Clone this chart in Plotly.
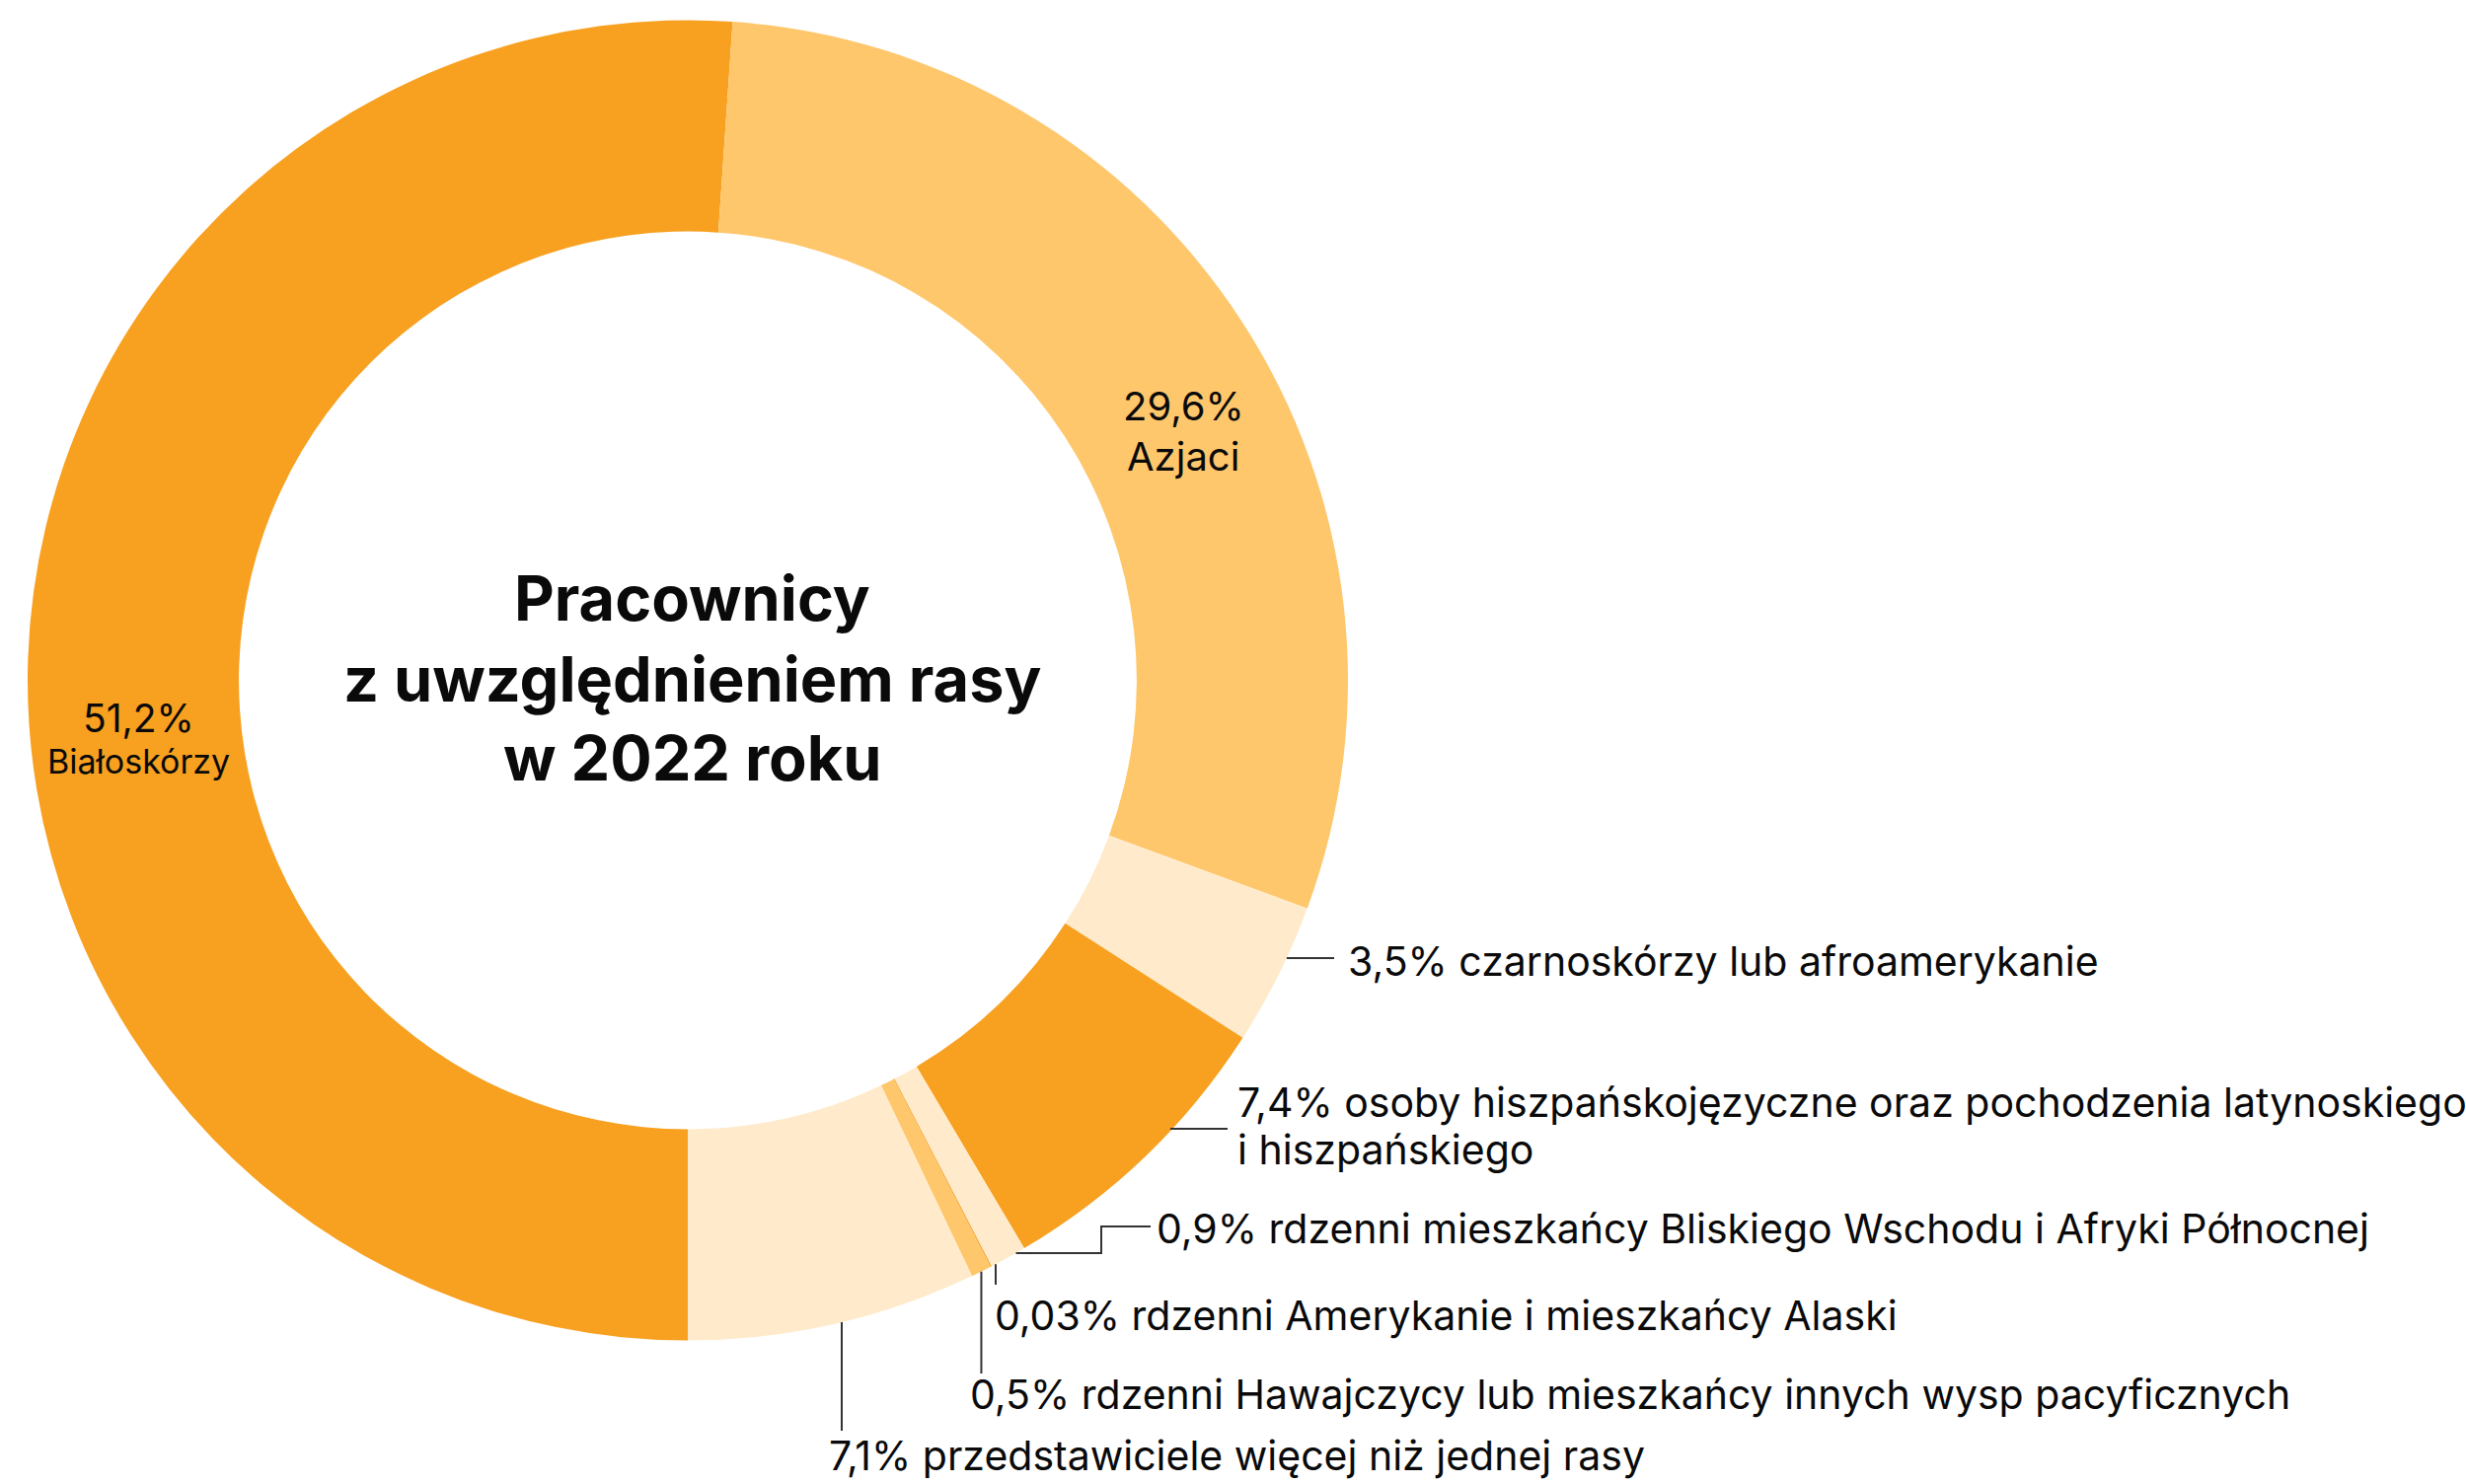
import math
import plotly.graph_objects as go

# ---- data ----
categories = [
    "Białoskórzy",
    "Azjaci",
    "czarnoskórzy lub afroamerykanie",
    "osoby hiszpańskojęzyczne oraz pochodzenia latynoskiego i hiszpańskiego",
    "rdzenni mieszkańcy Bliskiego Wschodu i Afryki Północnej",
    "rdzenni Amerykanie i mieszkańcy Alaski",
    "rdzenni Hawajczycy lub mieszkańcy innych wysp pacyficznych",
    "przedstawiciele więcej niż jednej rasy",
]
values = [51.2, 29.6, 3.5, 7.4, 0.9, 0.03, 0.5, 7.1]
value_labels = ["51,2%", "29,6%", "3,5%", "7,4%", "0,9%", "0,03%", "0,5%", "7,1%"]
title_lines = ["Pracownicy", "z uwzględnieniem rasy", "w 2022 roku"]

DARK, LIGHT, PALE = "#F8A020", "#FEC76C", "#FFEBCC"
colors = [DARK, LIGHT, PALE, DARK, PALE, DARK, LIGHT, PALE]

W, H = 2499, 1504
CX, CY, R = 697.0, 689.5, 669.0
HOLE = 0.68

def px(x):
    return x / W

def py(y):
    return 1 - y / H

fig = go.Figure(go.Pie(
    labels=categories, values=values, sort=False, direction="clockwise",
    rotation=180, hole=HOLE, textinfo="none", hoverinfo="label+percent",
    marker=dict(colors=colors, line=dict(width=0)),
    domain=dict(x=[px(CX - R), px(CX + R)], y=[py(CY + R), py(CY - R)]),
    showlegend=False,
))

# slice mid angles (deg, clockwise from 12 o'clock)
total = sum(values)
mids = []
acc = 180.0
for v in values:
    span = v / total * 360
    mids.append(acc + span / 2)
    acc += span

def circle_x_at_y(y):
    return CX + math.sqrt(max(R * R - (y - CY) ** 2, 0))

def circle_y_at_x(x):
    return CY + math.sqrt(max(R * R - (x - CX) ** 2, 0))

def mid_x(i):
    return CX + R * math.sin(math.radians(mids[i]))

FONT = "Inter, 'Noto Sans', sans-serif"
TXT = "#0a0a0a"
LINE = dict(color="#333333", width=2)
annotations = []
shapes = []

def text(x, y, s, size=41, anchor="left", weight=None, fam=FONT):
    f = dict(family=fam, size=size, color=TXT)
    if weight:
        f["weight"] = weight
    annotations.append(dict(
        x=px(x), y=py(y), xref="paper", yref="paper", text=s, showarrow=False,
        xanchor=anchor, yanchor="middle", font=f,
    ))

def path(points):
    d = "M " + " L ".join(f"{px(x)} {py(y)}" for x, y in points)
    shapes.append(dict(type="path", path=d, xref="paper", yref="paper", line=LINE))

# title
for line, y in zip(title_lines, [606, 688, 768]):
    text(701, y, line, size=63, anchor="center", weight=700)

# inside labels
text(140, 727, value_labels[0], size=39, anchor="center")
text(140, 771, categories[0], size=34, anchor="center")
text(1199, 411, value_labels[1], size=40, anchor="center")
text(1199, 462, categories[1], size=40, anchor="center")

# 3,5%
y = 971
path([(circle_x_at_y(y), y), (1352, y)])
text(1364, 974, f"{value_labels[2]} {categories[2]}")

# 7,4% (two lines)
y = 1144
path([(circle_x_at_y(y) - 2, y), (1244, y)])
text(1252, 1117, f"{value_labels[3]} osoby hiszpańskojęzyczne oraz pochodzenia latynoskiego")
text(1252, 1165, "i hiszpańskiego")

# 0,9%
y = 1270
path([(circle_x_at_y(y), y), (1116, y), (1116, 1243), (1166, 1243)])
text(1170, 1245, f"{value_labels[4]} {categories[4]}")

# 0,03%
x = 1009
path([(x, circle_y_at_x(x)), (x, 1302)])
text(1006, 1333, f"{value_labels[5]} {categories[5]}")

# 0,5%
x = mid_x(6)
path([(x, circle_y_at_x(x)), (x, 1392)])
text(981, 1413, f"{value_labels[6]} {categories[6]}")

# 7,1%
x = 853
path([(x, circle_y_at_x(x)), (x, 1450)])
text(838, 1475, f"{value_labels[7]} {categories[7]}")

fig.update_layout(
    width=W, height=H, margin=dict(l=0, r=0, t=0, b=0),
    paper_bgcolor="white", plot_bgcolor="white",
    annotations=annotations, shapes=shapes,
)
fig.write_html("out.html")
